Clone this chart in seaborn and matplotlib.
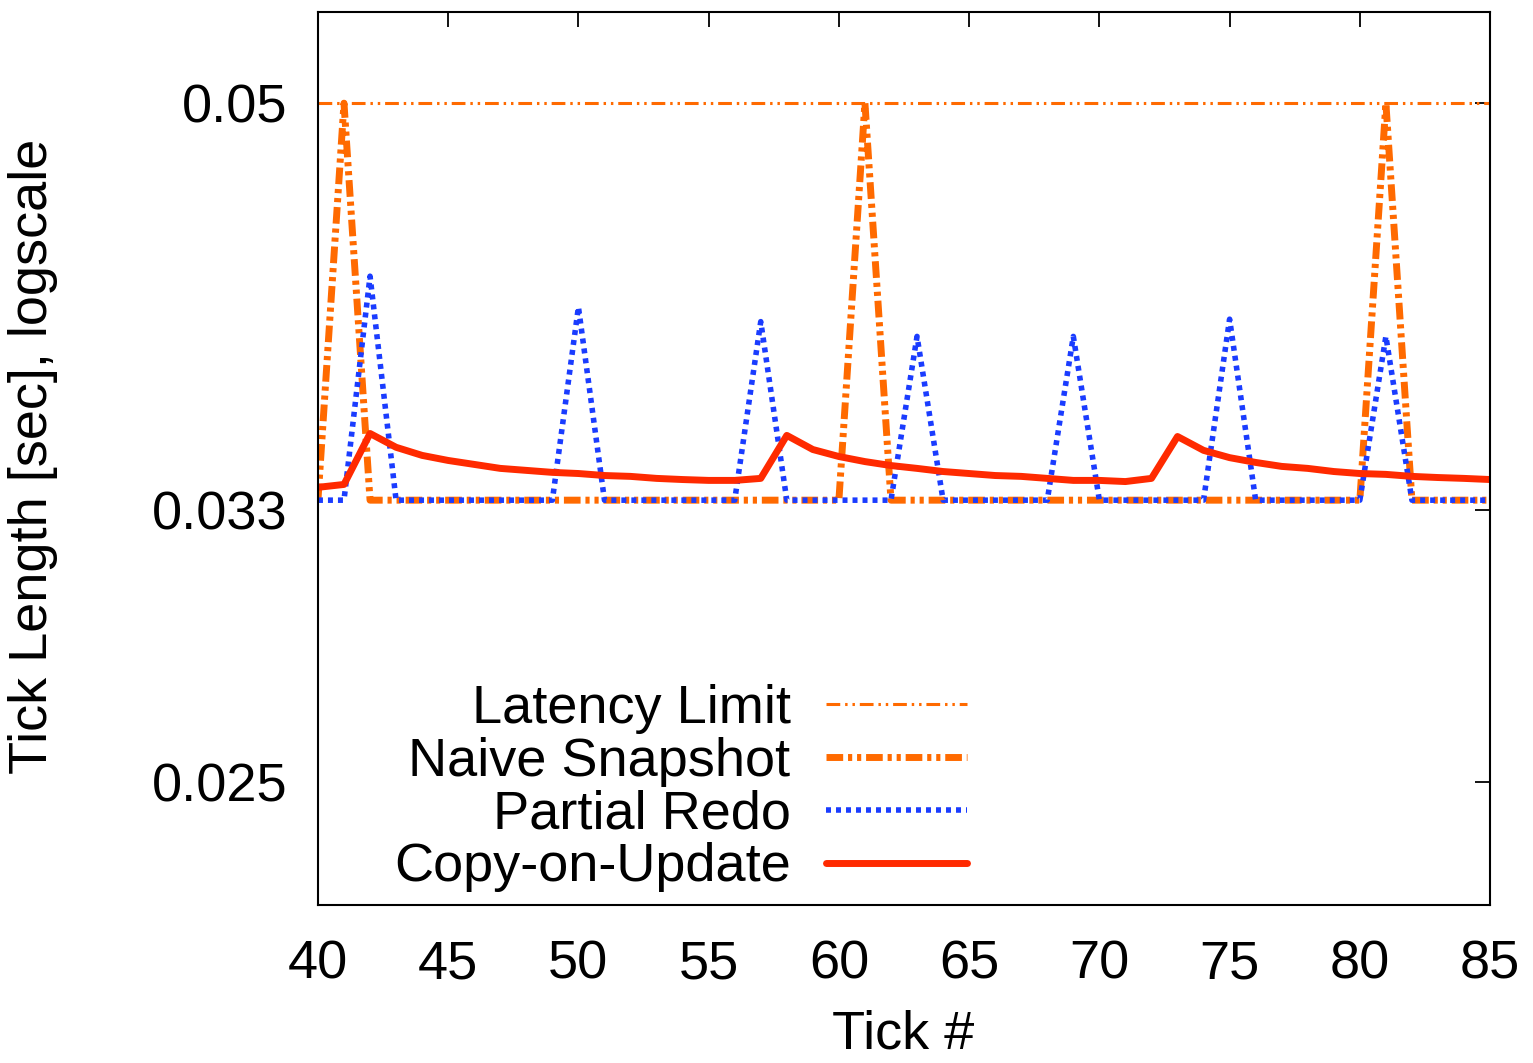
import matplotlib
matplotlib.use('Agg')
import matplotlib.pyplot as plt
import matplotlib.ticker as mticker
import seaborn as sns
import numpy as np

# Tick-Nummern 40..85
ticks = list(range(40, 86))

latency_limit = [0.05] * len(ticks)

naive_snapshot = [
    0.03333, 0.05, 0.03333, 0.03333, 0.03333, 0.03333, 0.03333, 0.03333,
    0.03333, 0.03333, 0.03333, 0.03333, 0.03333, 0.03333, 0.03333, 0.03333,
    0.03333, 0.03333, 0.03333, 0.03333, 0.03333, 0.05, 0.03333, 0.03333,
    0.03333, 0.03333, 0.03333, 0.03333, 0.03333, 0.03333, 0.03333, 0.03333,
    0.03333, 0.03333, 0.03333, 0.03333, 0.03333, 0.03333, 0.03333, 0.03333,
    0.03333, 0.05, 0.03333, 0.03333, 0.03333, 0.03333]

partial_redo = [
    0.03333, 0.03333, 0.0419, 0.03333, 0.03333, 0.03333, 0.03333, 0.03333,
    0.03333, 0.03333, 0.0406, 0.03333, 0.03333, 0.03333, 0.03333, 0.03333,
    0.03333, 0.0400, 0.03333, 0.03333, 0.03333, 0.03333, 0.03333, 0.0394,
    0.03333, 0.03333, 0.03333, 0.03333, 0.03333, 0.0394, 0.03333, 0.03333,
    0.03333, 0.03333, 0.03333, 0.0401, 0.03333, 0.03333, 0.03333, 0.03333,
    0.03333, 0.0394, 0.03333, 0.03333, 0.03333, 0.03333]

copy_on_update = [
    0.03377, 0.03387, 0.03568, 0.03518, 0.03489, 0.03471, 0.03457, 0.03443,
    0.03436, 0.03429, 0.03425, 0.03418, 0.03415, 0.03408, 0.03404, 0.03401,
    0.03401, 0.03408, 0.03561, 0.03510, 0.03485, 0.03467, 0.03453, 0.03443,
    0.03432, 0.03425, 0.03418, 0.03415, 0.03408, 0.03401, 0.03401, 0.03397,
    0.03408, 0.03557, 0.03507, 0.03481, 0.03464, 0.03450, 0.03443, 0.03432,
    0.03425, 0.03422, 0.03415, 0.03411, 0.03408, 0.03404]

y_ticks = [0.025, 0.033, 0.05]
y_tick_labels = ['0.025', '0.033', '0.05']
x_ticks = list(range(40, 86, 5))

ORANGE = '#ff6a00'
BLUE = '#1a3cff'
RED = '#ff2a00'


def main():
    sns.set_style('white')
    plt.rcParams['font.family'] = ['Liberation Sans', 'DejaVu Sans']
    plt.rcParams['font.size'] = 39
    plt.rcParams['text.color'] = 'black'
    plt.rcParams['axes.labelcolor'] = 'black'
    plt.rcParams['xtick.color'] = 'black'
    plt.rcParams['ytick.color'] = 'black'

    fig = plt.figure(figsize=(15.33, 10.63), dpi=100)
    ax = fig.add_axes([0.2074, 0.1486, 0.7646, 0.8401])

    # Linien zeichnen
    sns.lineplot(x=ticks, y=latency_limit, ax=ax, color=ORANGE,
                 linewidth=2.2, label='Latency Limit',
                 linestyle=(0, (4.5, 1.6, 0.8, 1.6, 0.8, 1.6)))
    sns.lineplot(x=ticks, y=naive_snapshot, ax=ax, color=ORANGE,
                 linewidth=5, label='Naive Snapshot',
                 linestyle=(0, (2.4, 0.7, 0.6, 0.7, 0.6, 0.7)))
    sns.lineplot(x=ticks, y=partial_redo, ax=ax, color=BLUE,
                 linewidth=4, label='Partial Redo',
                 linestyle=(0, (0.9, 0.9)))
    sns.lineplot(x=ticks, y=copy_on_update, ax=ax, color=RED,
                 linewidth=5, label='Copy-on-Update')

    ax.set_yscale('log')
    ax.set_xlim(40, 85)
    ax.set_ylim(0.02204, 0.05488)
    ax.set_yticks(y_ticks)
    ax.set_yticklabels(y_tick_labels)
    ax.yaxis.set_minor_locator(mticker.NullLocator())
    ax.set_xticks(x_ticks)

    ax.tick_params(axis='both', which='major', direction='in', length=11,
                   width=1.3, color='black', labelcolor='black',
                   top=True, right=True, labelsize=39)
    ax.tick_params(axis='x', pad=25)
    ax.tick_params(axis='y', pad=22)
    for s in ax.spines.values():
        s.set_visible(True)
        s.set_color('black')
        s.set_linewidth(1.5)

    ax.set_xlabel('Tick #', fontsize=39, color='black')
    ax.set_ylabel('Tick Length [sec], logscale', fontsize=39, color='black')
    ax.xaxis.set_label_coords(0.499, -0.117)
    ax.yaxis.set_label_coords(-0.222, 0.502)

    leg = ax.legend(loc='lower right', bbox_to_anchor=(0.558, 0.008),
                    markerfirst=False, frameon=False, fontsize=39,
                    handlelength=2.6, handletextpad=0.65,
                    labelspacing=0.05, borderpad=0.0, borderaxespad=0.1)
    for t in leg.get_texts():
        t.set_ha('right')
        t.set_color('black')

    fig.savefig('out.png', dpi=100)


if __name__ == '__main__':
    main()
